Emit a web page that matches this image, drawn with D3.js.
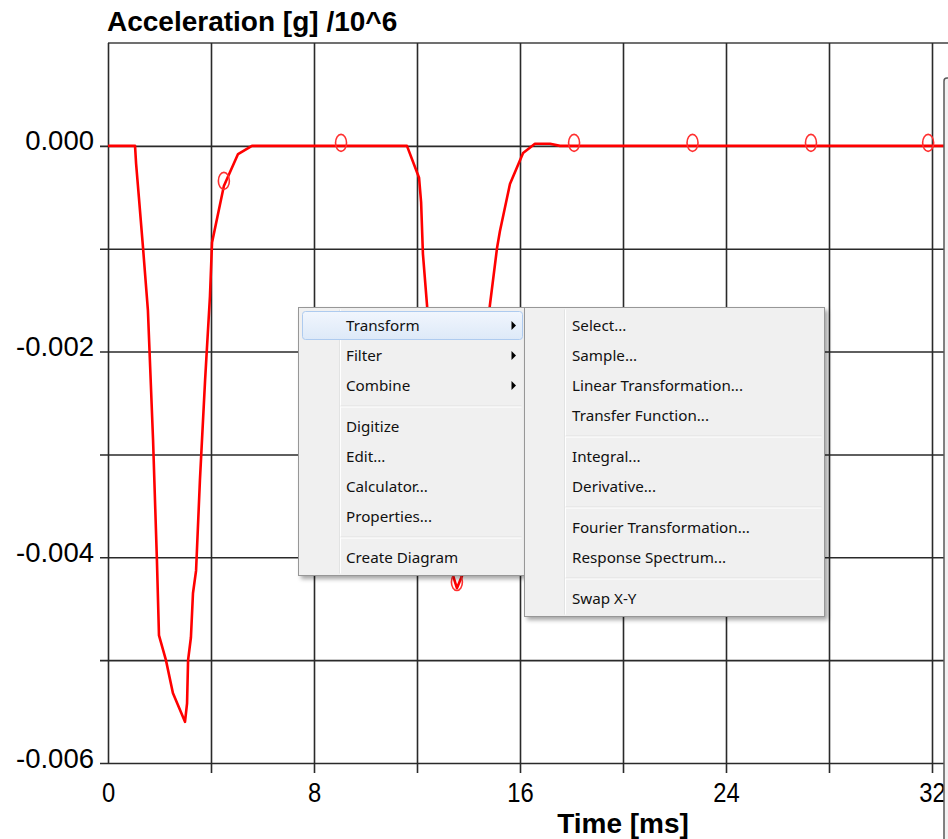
<!DOCTYPE html>
<html>
<head>
<meta charset="utf-8">
<script src="https://cdn.jsdelivr.net/npm/d3@7"></script>
<style>
  html, body { margin: 0; padding: 0; background: #fff; }
  svg { display: block; }
</style>
</head>
<body>
<svg id="chart" width="948" height="839"></svg>
<script>
// ---------- data ----------
const timeMs = [0, 1.05, 1.09, 1.20, 1.36, 1.55, 1.75, 1.90, 1.98, 2.25, 2.52, 2.99, 3.07, 3.11, 3.22, 3.30, 3.42, 3.57, 3.77, 3.96, 4.04, 4.50, 5.05, 5.59,
  11.61, 12.08, 12.16, 12.23, 12.39, 12.58, 12.97, 13.28, 13.55, 13.83, 14.29, 14.68, 14.83, 15.11, 15.22, 15.61, 16.12, 16.58, 17.17, 17.55, 33];
const accel = [0, 0, -0.00017, -0.00050, -0.00099, -0.00160, -0.00286, -0.00403, -0.00476, -0.00500, -0.00532, -0.00560, -0.00542, -0.00500, -0.00478, -0.00435, -0.00413, -0.00325, -0.00228, -0.00146, -0.00094, -0.00039, -0.00008, 0,
  0, -0.00031, -0.00055, -0.00105, -0.00155, -0.00248, -0.00345, -0.00408, -0.00430, -0.00413, -0.00296, -0.00189, -0.00155, -0.00099, -0.00083, -0.00037, -0.00007, 0.00002, 0.00002, 0, 0];
const markerTime = [4.5, 9.05, 13.55, 18.1, 22.7, 27.3, 31.85];
const markerValue = [-0.00037, 0, -0.00427, 0, 0, 0, 0];
const xTicks = [0, 4, 8, 12, 16, 20, 24, 28, 32];
const xTickLabels = ["0", "", "8", "", "16", "", "24", "", "32"];
const yTicks = [-0.006, -0.005, -0.004, -0.003, -0.002, -0.001, 0];
const yTickLabels = ["-0.006", "", "-0.004", "", "-0.002", "", "0.000"];
const titleText = "Acceleration [g] /10^6";
const xTitle = "Time [ms]";
const mainMenu = ["Transform", "Filter", "Combine", "-", "Digitize", "Edit...", "Calculator...", "Properties...", "-", "Create Diagram"];
const mainSubmenu = ["Transform", "Filter", "Combine"];
const subMenu = ["Select...", "Sample...", "Linear Transformation...", "Transfer Function...", "-", "Integral...", "Derivative...", "-", "Fourier Transformation...", "Response Spectrum...", "-", "Swap X-Y"];

// ---------- layout ----------
const svg = d3.select("#chart");
const plotLeft = 108, plotTop = 43, plotBottom = 763, rightEdge = 944;
const x = d3.scaleLinear().domain([0, 32]).range([108, 932]);
const y = d3.scaleLinear().domain([-0.006, 0.001]).range([plotBottom, plotTop]);
const gridColor = "#2a2a2a";
const font = "'Liberation Sans', Arial, sans-serif";

// defs
const defs = svg.append("defs");
const clip = defs.append("clipPath").attr("id", "plotclip");
clip.append("rect").attr("x", plotLeft).attr("y", plotTop).attr("width", rightEdge - plotLeft).attr("height", plotBottom - plotTop);
const sh = defs.append("filter").attr("id", "shadow").attr("x", "-10%").attr("y", "-10%").attr("width", "130%").attr("height", "130%");
sh.append("feDropShadow").attr("dx", 3).attr("dy", 3).attr("stdDeviation", 2).attr("flood-color", "#000").attr("flood-opacity", 0.35);
const hl = defs.append("linearGradient").attr("id", "hlgrad").attr("x1", 0).attr("y1", 0).attr("x2", 0).attr("y2", 1);
hl.append("stop").attr("offset", "0%").attr("stop-color", "#f1f6fd");
hl.append("stop").attr("offset", "100%").attr("stop-color", "#dde9f8");

// title
svg.append("text").attr("x", 107).attr("y", 31)
  .attr("font-family", font).attr("font-weight", "bold").attr("font-size", 28)
  .attr("fill", "#000").text(titleText);

// top border
svg.append("line").attr("x1", plotLeft).attr("x2", 948).attr("y1", plotTop).attr("y2", plotTop)
  .attr("stroke", "#707070").attr("stroke-width", 2);

// y axis (grid + ticks)
const yAxis = d3.axisLeft(y).tickValues(yTicks)
  .tickFormat((d, i) => yTickLabels[i])
  .tickSize(-(rightEdge - 100)).tickPadding(6);
const gy = svg.append("g").attr("transform", "translate(100,0)").call(yAxis);
gy.select(".domain").remove();
gy.selectAll(".tick line").attr("stroke", gridColor).attr("stroke-width", 1.6);
gy.selectAll(".tick text").attr("font-family", font).attr("font-size", 27.5)
  .attr("fill", "#000").attr("dy", null).attr("y", 4);

// x axis (grid + ticks)
const xAxis = d3.axisBottom(x).tickValues(xTicks)
  .tickFormat((d, i) => xTickLabels[i])
  .tickSize(plotBottom - plotTop + 10).tickPadding(0);
const gx = svg.append("g").attr("transform", `translate(0,${plotTop})`).call(xAxis);
gx.select(".domain").remove();
gx.selectAll(".tick line").attr("stroke", gridColor).attr("stroke-width", 1.6)
  .attr("y2", d => d === 0 ? plotBottom - plotTop : plotBottom - plotTop + 10);
gx.selectAll(".tick text").attr("font-family", font).attr("font-size", 28)
  .attr("fill", "#000").attr("dy", null).attr("y", 802 - plotTop)
  .attr("transform", "scale(0.85,1)");

// axis title
svg.append("text").attr("x", 623).attr("y", 833).attr("text-anchor", "middle")
  .attr("font-family", font).attr("font-weight", "bold").attr("font-size", 28)
  .attr("fill", "#000").text(xTitle);

// curve
const pts = timeMs.map((t, i) => [t, accel[i]]);
const line = d3.line().x(d => x(d[0])).y(d => y(d[1]));
const plot = svg.append("g").attr("clip-path", "url(#plotclip)");
plot.append("path").datum(pts).attr("d", line)
  .attr("fill", "none").attr("stroke", "#ff0000").attr("stroke-width", 2.6)
  .attr("stroke-linejoin", "round");

// markers
plot.selectAll("ellipse.mk").data(markerTime.map((t, i) => [t, markerValue[i]]))
  .enter().append("ellipse").attr("class", "mk")
  .attr("cx", d => x(d[0])).attr("cy", d => y(d[1]) - 3)
  .attr("rx", 5.5).attr("ry", 8.5)
  .attr("fill", "none").attr("stroke", "#ff3030").attr("stroke-width", 1.6);

// right window edge
svg.append("rect").attr("x", rightEdge).attr("y", 78).attr("width", 12).attr("height", 770)
  .attr("rx", 3).attr("fill", "#f2f2f2").attr("stroke", "#5a5a5a").attr("stroke-width", 1.5);

// ---------- context menus ----------
const menuFont = "'Noto Sans', 'Open Sans', sans-serif";
function drawMenu(items, mx, my, mw, gutter, textX, highlight, arrows) {
  const rowH = 30, sepH = 11, pad = 3;
  let h = pad * 2;
  items.forEach(s => h += (s === "-" ? sepH : rowH));
  const g = svg.append("g");
  g.append("rect").attr("x", mx).attr("y", my).attr("width", mw).attr("height", h)
    .attr("fill", "#f0f0f0").attr("stroke", "#979797").attr("stroke-width", 1)
    .attr("filter", "url(#shadow)");
  g.append("line").attr("x1", mx + gutter).attr("x2", mx + gutter)
    .attr("y1", my + 2).attr("y2", my + h - 2).attr("stroke", "#e2e3e3");
  g.append("line").attr("x1", mx + gutter + 1).attr("x2", mx + gutter + 1)
    .attr("y1", my + 2).attr("y2", my + h - 2).attr("stroke", "#ffffff");
  let cy = my + pad;
  items.forEach((s) => {
    if (s === "-") {
      g.append("line").attr("x1", mx + gutter + 1).attr("x2", mx + mw - 3)
        .attr("y1", cy + 5.5).attr("y2", cy + 5.5).attr("stroke", "#e0e0e0");
      g.append("line").attr("x1", mx + gutter + 1).attr("x2", mx + mw - 3)
        .attr("y1", cy + 6.5).attr("y2", cy + 6.5).attr("stroke", "#ffffff");
      cy += sepH;
      return;
    }
    if (s === highlight) {
      g.append("rect").attr("x", mx + 4).attr("y", cy + 1).attr("width", mw - 6).attr("height", rowH - 2)
        .attr("rx", 3).attr("fill", "url(#hlgrad)").attr("stroke", "#aecbef").attr("stroke-width", 1);
    }
    g.append("text").attr("x", textX).attr("y", cy + rowH / 2 + 5.5)
      .attr("font-family", menuFont).attr("font-size", 15.2).attr("fill", "#111").text(s);
    if (arrows.includes(s)) {
      const ax = mx + mw - 13, ay = cy + rowH / 2;
      g.append("path").attr("d", `M${ax},${ay - 4.5}L${ax + 4.5},${ay}L${ax},${ay + 4.5}Z`).attr("fill", "#000");
    }
    cy += rowH;
  });
  return g;
}
drawMenu(mainMenu, 298.5, 307.5, 226, 41, 346, "Transform", mainSubmenu);
drawMenu(subMenu, 524.5, 307.5, 300, 40, 572, null, []);
</script>
</body>
</html>
